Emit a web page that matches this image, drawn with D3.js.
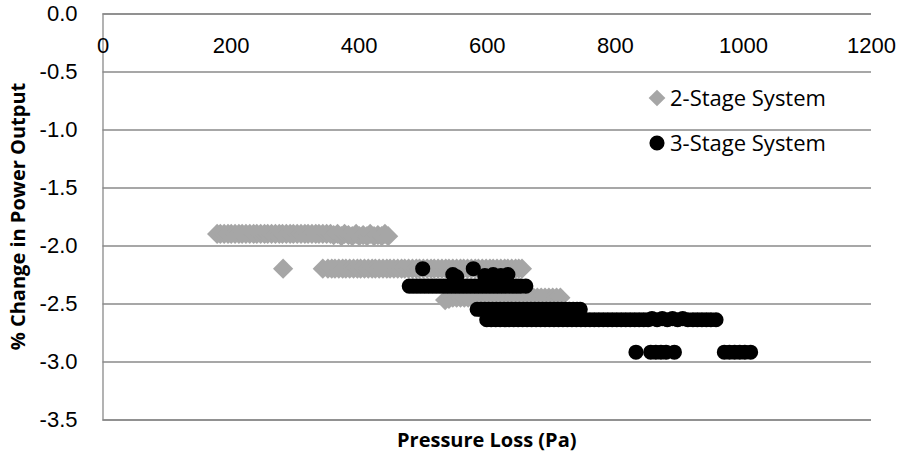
<!DOCTYPE html>
<html>
<head>
<meta charset="utf-8">
<script src="https://cdn.jsdelivr.net/npm/d3@7"></script>
<style>
  body { margin: 0; background: #fff; }
  svg { font-family: "Open Sans", "Liberation Sans", sans-serif; }
  .tick-label { font-size: 22px; fill: #000; }
  .axis-title { font-size: 20px; font-weight: bold; fill: #000; }
  .legend-text { font-size: 22px; fill: #000; }
</style>
</head>
<body>
<script>
// tick values
const xTicks = [0, 200, 400, 600, 800, 1000, 1200];
const yTicks = [0, -0.5, -1.0, -1.5, -2.0, -2.5, -3.0, -3.5];

// 2-Stage System [pressure loss, % change]
const twoStage = [
  [179, -1.9], [184, -1.9], [190, -1.9], [196, -1.9], [201, -1.9], [207, -1.9], [213, -1.9], [218, -1.9],
  [224, -1.9], [230, -1.9], [236, -1.9], [241, -1.9], [247, -1.9], [253, -1.9], [258, -1.9], [264, -1.9],
  [270, -1.9], [276, -1.9], [281, -1.9], [287, -1.9], [293, -1.9], [298, -1.9], [304, -1.9], [310, -1.9],
  [316, -1.9], [321, -1.9], [327, -1.9], [333, -1.9], [338, -1.9], [344, -1.9], [350, -1.9], [356, -1.9],
  [361, -1.91], [367, -1.9], [373, -1.92], [378, -1.9], [384, -1.91], [390, -1.92], [396, -1.9], [401, -1.92],
  [407, -1.91], [413, -1.92], [418, -1.9], [424, -1.92], [430, -1.91], [436, -1.92], [441, -1.9], [446, -1.92],
  [282, -2.2],
  [344, -2.2], [352, -2.2], [358, -2.2], [363, -2.2], [369, -2.2], [375, -2.2], [380, -2.2], [386, -2.2],
  [392, -2.2], [398, -2.2], [403, -2.2], [409, -2.2], [415, -2.2], [421, -2.2], [426, -2.2], [432, -2.2],
  [438, -2.2], [444, -2.2], [449, -2.2], [455, -2.2], [461, -2.2], [467, -2.2], [472, -2.2], [478, -2.2],
  [484, -2.2], [490, -2.2], [495, -2.2], [501, -2.2], [507, -2.2], [513, -2.2], [518, -2.2], [524, -2.2],
  [530, -2.2], [536, -2.2], [541, -2.2], [547, -2.2], [553, -2.2], [559, -2.2], [564, -2.2], [570, -2.2],
  [576, -2.2], [582, -2.2], [587, -2.2], [593, -2.2], [599, -2.2], [605, -2.2], [610, -2.2], [616, -2.2],
  [622, -2.2], [628, -2.2], [633, -2.2], [639, -2.2], [645, -2.2], [650, -2.2], [655, -2.2],
  [535, -2.47], [541, -2.46], [547, -2.45], [553, -2.45], [559, -2.45], [565, -2.45], [571, -2.45], [577, -2.45],
  [583, -2.45], [589, -2.45], [595, -2.45], [601, -2.45], [607, -2.45], [613, -2.45], [619, -2.45], [625, -2.45],
  [631, -2.45], [637, -2.45], [643, -2.45], [649, -2.45], [655, -2.45], [661, -2.45], [667, -2.45], [673, -2.45],
  [679, -2.45], [685, -2.45], [691, -2.45], [697, -2.45], [703, -2.45], [709, -2.45], [715, -2.45]
];

// 3-Stage System [pressure loss, % change]
const threeStage = [
  [500, -2.2], [579, -2.2],
  [547, -2.25], [553, -2.27], [597, -2.26], [610, -2.25], [622, -2.26], [633, -2.25],
  [479, -2.35], [485, -2.35], [491, -2.35], [497, -2.35], [503, -2.35], [509, -2.35], [515, -2.35], [521, -2.35],
  [527, -2.35], [533, -2.35], [539, -2.35], [545, -2.35], [551, -2.35], [557, -2.35], [563, -2.35], [569, -2.35],
  [575, -2.35], [581, -2.35], [587, -2.35], [593, -2.35], [599, -2.35], [605, -2.35], [611, -2.35], [617, -2.35],
  [623, -2.35], [629, -2.35], [635, -2.35], [641, -2.35], [647, -2.35], [653, -2.35], [661, -2.35],
  [585, -2.55], [591, -2.55], [597, -2.55], [603, -2.55], [609, -2.55], [615, -2.55], [621, -2.55], [627, -2.55],
  [633, -2.55], [639, -2.55], [645, -2.55], [651, -2.55], [657, -2.55], [663, -2.55], [669, -2.55], [675, -2.55],
  [681, -2.55], [687, -2.55], [693, -2.55], [699, -2.55], [705, -2.55], [711, -2.55], [717, -2.55], [723, -2.55],
  [729, -2.55], [735, -2.55], [741, -2.55], [746, -2.55],
  [600, -2.64], [607, -2.64], [614, -2.64], [621, -2.64], [628, -2.64], [635, -2.64], [642, -2.64], [649, -2.64],
  [656, -2.64], [663, -2.64], [670, -2.64], [677, -2.64], [684, -2.64], [691, -2.64], [698, -2.64], [705, -2.64],
  [712, -2.64], [719, -2.64], [726, -2.64], [733, -2.64], [740, -2.64], [747, -2.64], [754, -2.64], [761, -2.64],
  [768, -2.64], [775, -2.64], [782, -2.64], [789, -2.64], [796, -2.64], [803, -2.64], [810, -2.64], [817, -2.64],
  [824, -2.64], [831, -2.64], [838, -2.64], [845, -2.64], [852, -2.64], [858, -2.63], [866, -2.64], [874, -2.63],
  [882, -2.64], [890, -2.63], [898, -2.64], [906, -2.63], [914, -2.64], [922, -2.64], [929, -2.64], [936, -2.64],
  [943, -2.64], [950, -2.64], [958, -2.64],
  [833, -2.92], [856, -2.92], [864, -2.92], [872, -2.92], [880, -2.92], [893, -2.92],
  [971, -2.92], [979, -2.92], [987, -2.92], [995, -2.92], [1003, -2.92], [1012, -2.92]
];

const seriesNames = ["2-Stage System", "3-Stage System"];

document.addEventListener("DOMContentLoaded", () => {
  const canvass = { width: 899, height: 454, left: 102.5, right: 871, top: 13.5, bottom: 419.5 };
  const gray = "#a6a6a6";
  const gridColor = "#8a8a8a";
  const fmt = (v) => d3.format(".1f")(v).replace("\u2212", "-");

  const svg = d3
    .select("body")
    .append("svg")
    .attr("width", canvass.width)
    .attr("height", canvass.height);

  const xScale = d3.scaleLinear().domain([0, 1200]).range([canvass.left, canvass.right]);
  const yScale = d3.scaleLinear().domain([0, -3.5]).range([canvass.top, canvass.bottom]);

  // horizontal gridlines + y labels
  const yAxis = svg
    .append("g")
    .attr("transform", `translate(${canvass.left},0)`)
    .call(
      d3.axisLeft(yScale)
        .tickValues(yTicks)
        .tickSize(-(canvass.right - canvass.left))
        .tickPadding(25)
        .tickFormat(fmt)
    );
  yAxis.select(".domain").attr("stroke", gridColor).attr("stroke-width", 1.3);
  yAxis.selectAll(".tick line").attr("stroke", gridColor).attr("stroke-width", 1.3);
  yAxis.selectAll(".tick text").attr("class", "tick-label").attr("font-size", null).attr("font-family", null);

  // x labels sit under the zero line
  const xAxis = svg
    .append("g")
    .attr("transform", `translate(0,${yScale(0)})`)
    .call(d3.axisBottom(xScale).tickValues(xTicks).tickSize(0).tickPadding(24).tickFormat(d3.format("d")));
  xAxis.select(".domain").remove();
  xAxis.selectAll(".tick text").attr("class", "tick-label").attr("font-size", null).attr("font-family", null);

  const diamond = d3.symbol(d3.symbolSquare, 205);
  const circle = d3.symbol(d3.symbolCircle, 180);

  svg
    .append("g")
    .selectAll("path")
    .data(twoStage)
    .enter()
    .append("path")
    .attr("d", diamond)
    .attr("transform", (d) => `translate(${xScale(d[0])},${yScale(d[1])}) rotate(45)`)
    .attr("fill", gray);

  svg
    .append("g")
    .selectAll("path")
    .data(threeStage)
    .enter()
    .append("path")
    .attr("d", circle)
    .attr("transform", (d) => `translate(${xScale(d[0])},${yScale(d[1])})`)
    .attr("fill", "#000");

  // legend
  const legend = svg.append("g");
  legend
    .append("path")
    .attr("d", d3.symbol(d3.symbolSquare, 140))
    .attr("transform", "translate(657,98) rotate(45)")
    .attr("fill", gray);
  legend
    .append("path")
    .attr("d", d3.symbol(d3.symbolCircle, 180))
    .attr("transform", "translate(657,143)")
    .attr("fill", "#000");
  legend
    .selectAll("text")
    .data(seriesNames)
    .enter()
    .append("text")
    .attr("class", "legend-text")
    .attr("x", 670)
    .attr("y", (d, i) => 106 + i * 45)
    .text((d) => d);

  // axis titles
  svg
    .append("text")
    .attr("class", "axis-title")
    .attr("text-anchor", "middle")
    .attr("x", (canvass.left + canvass.right) / 2)
    .attr("y", 447)
    .text("Pressure Loss (Pa)");

  svg
    .append("text")
    .attr("class", "axis-title")
    .attr("text-anchor", "middle")
    .attr("transform", `translate(25,${(canvass.top + canvass.bottom) / 2}) rotate(-90)`)
    .text("% Change in Power Output");
});
</script>
</body>
</html>
